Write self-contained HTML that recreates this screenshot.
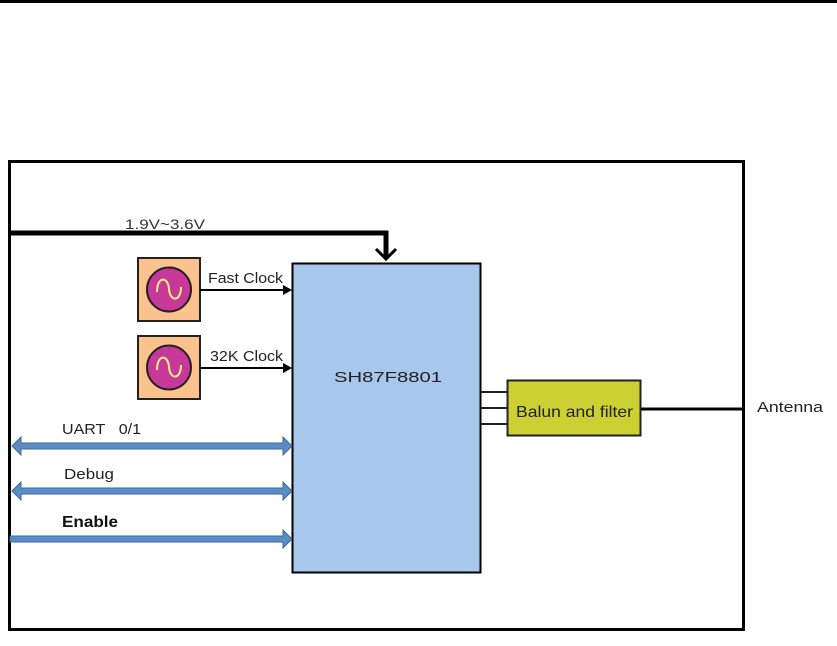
<!DOCTYPE html>
<html><head><meta charset="utf-8"><style>
html,body{margin:0;padding:0;background:#fff;width:837px;height:646px;overflow:hidden}
svg{display:block}
text{font-family:"Liberation Sans",sans-serif}
</style></head><body>
<svg width="837" height="646" viewBox="0 0 837 646">
<rect x="0" y="0" width="837" height="3" fill="#000"/>
<rect x="9.5" y="161.5" width="734" height="468" fill="none" stroke="#000" stroke-width="3"/>
<!-- power -->
<polyline points="9,233 386,233 386,257" fill="none" stroke="#000" stroke-width="5"/>
<polyline points="376,249 386,259 396,249" fill="none" stroke="#000" stroke-width="3"/>
<text x="125" y="229" font-size="14" fill="#333" textLength="80" lengthAdjust="spacingAndGlyphs">1.9V~3.6V</text>
<!-- chip -->
<rect x="292.5" y="263.5" width="188" height="309" fill="#a7c8ec" stroke="#000" stroke-width="2"/>
<text x="334" y="382" font-size="15" fill="#222" textLength="108" lengthAdjust="spacingAndGlyphs">SH87F8801</text>
<!-- oscillators -->
<g>
<rect x="138" y="258" width="62" height="63" fill="#fcc28e" stroke="#222" stroke-width="2"/>
<circle cx="169" cy="289.5" r="22" fill="#c83898" stroke="#222" stroke-width="2"/>
<path d="M157,292 C157,276 168,276 169,289 C170,302 181,302 181,287" fill="none" stroke="#f4ee80" stroke-width="2"/>
<rect x="138" y="336" width="62" height="63" fill="#fcc28e" stroke="#222" stroke-width="2"/>
<circle cx="169" cy="367.5" r="22" fill="#c83898" stroke="#222" stroke-width="2"/>
<path d="M157,370 C157,354 168,354 169,367 C170,380 181,380 181,365" fill="none" stroke="#f4ee80" stroke-width="2"/>
</g>
<line x1="200" y1="290" x2="285" y2="290" stroke="#000" stroke-width="2"/>
<polygon points="283,285 292,290 283,295" fill="#000"/>
<text x="208" y="283" font-size="15" fill="#222" textLength="75" lengthAdjust="spacingAndGlyphs">Fast Clock</text>
<line x1="200" y1="368" x2="285" y2="368" stroke="#000" stroke-width="2"/>
<polygon points="283,363 292,368 283,373" fill="#000"/>
<text x="210" y="361" font-size="15" fill="#222" textLength="73" lengthAdjust="spacingAndGlyphs">32K Clock</text>
<!-- buses -->
<g fill="#5b8cc6" stroke="#3a6a9c" stroke-width="1">
<polygon points="12,446 21,437 21,443 283,443 283,437 292,446 283,455 283,449 21,449 21,455"/>
<polygon points="12,491 21,482 21,488 283,488 283,482 292,491 283,500 283,494 21,494 21,500"/>
<polygon points="10,536 283,536 283,530 292,539 283,548 283,542 10,542"/>
</g>
<text x="62" y="434" font-size="15" fill="#222" textLength="79" lengthAdjust="spacingAndGlyphs">UART&#160;&#160;&#160;0/1</text>
<text x="64" y="479" font-size="15" fill="#222" textLength="50" lengthAdjust="spacingAndGlyphs">Debug</text>
<text x="62" y="527" font-size="16" font-weight="bold" fill="#111" textLength="56" lengthAdjust="spacingAndGlyphs">Enable</text>
<!-- balun -->
<g stroke="#222" stroke-width="2">
<line x1="481" y1="392" x2="507" y2="392"/>
<line x1="481" y1="408" x2="507" y2="408"/>
<line x1="481" y1="424" x2="507" y2="424"/>
</g>
<rect x="507.5" y="380.5" width="133" height="55" fill="#cdd033" stroke="#222" stroke-width="2"/>
<text x="516" y="417" font-size="16" fill="#222" textLength="117" lengthAdjust="spacingAndGlyphs">Balun and filter</text>
<line x1="641" y1="409" x2="744" y2="409" stroke="#000" stroke-width="3"/>
<text x="757" y="412" font-size="15" fill="#222" textLength="66" lengthAdjust="spacingAndGlyphs">Antenna</text>
</svg>
</body></html>
